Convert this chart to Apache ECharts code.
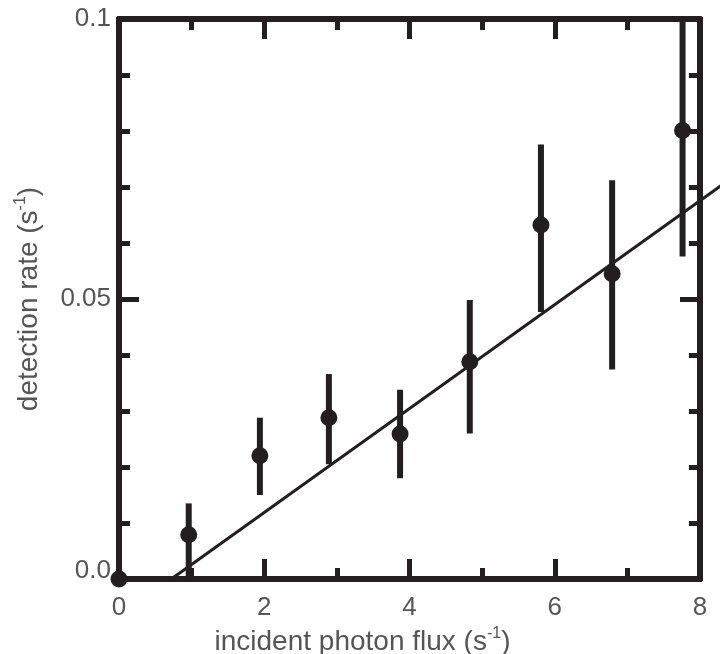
<!DOCTYPE html>
<html>
<head>
<meta charset="utf-8">
<script src="https://cdn.jsdelivr.net/npm/echarts@6/dist/echarts.min.js"></script>
<style>
  html, body {margin: 0; padding: 0; background: #fff;}
  #chart {width: 720px; height: 654px;}
</style>
</head>
<body>
<div id="chart"></div>
<script>
// measured points: flux, rate, error bar low / high
var flux = [0, 0.96, 1.94, 2.89, 3.87, 4.83, 5.81, 6.79, 7.76];
var rate = [0, 0.0079, 0.0220, 0.0288, 0.0259, 0.0388, 0.0632, 0.0545, 0.0801];
var errLow = [null, 0.0, 0.0150, 0.0205, 0.0180, 0.0260, 0.0477, 0.0374, 0.0576];
var errHigh = [null, 0.0135, 0.0288, 0.0366, 0.0338, 0.0498, 0.0776, 0.0712, 0.1];

// fitted line, drawn past the frame on the right
var fitX = [0.72, 8.35];
var fitY = [0, 0.0708];

var xTicks = [0, 2, 4, 6, 8];
var yTickLabels = {0: '0.0', 0.05: '0.05', 0.1: '0.1'};

var ink = '#231f20';
var textGray = '#555555';
var font = 'Liberation Sans, Arial';

var points = flux.map(function (x, i) { return [x, rate[i]]; });
var bars = [];
flux.forEach(function (x, i) {
    if (errLow[i] !== null) bars.push([x, errLow[i], errHigh[i]]);
});
var fitSeg = [[fitX[0], fitY[0], fitX[1], fitY[1]]];

var myChart = echarts.init(document.getElementById('chart'));

var frameLine = {show: true, onZero: false, lineStyle: {color: ink, width: 6}};
var majorTick = {show: true, inside: true, length: 20, lineStyle: {color: ink, width: 5}};
var xMinor = {show: true, splitNumber: 2, length: 11, lineStyle: {color: ink, width: 5}};
var yMinor = {show: true, splitNumber: 5, length: 11, lineStyle: {color: ink, width: 5}};

myChart.setOption({
    animation: false,
    grid: {left: 119, right: 20, top: 19, bottom: 75, containLabel: false, outerBoundsMode: 'none'},
    xAxis: [
        {
            type: 'value',
            min: 0, max: 8, interval: 2,
            axisLine: frameLine,
            axisTick: majorTick,
            minorTick: xMinor,
            splitLine: {show: false},
            axisLabel: {
                color: textGray, fontSize: 26, fontFamily: font, margin: 16,
                formatter: function (v) { return xTicks.indexOf(v) >= 0 ? String(v) : ''; }
            },
            name: 'incident photon flux (s{sup|-1})',
            nameLocation: 'middle',
            nameGap: 42,
            nameTextStyle: {
                color: textGray, fontSize: 28, fontFamily: font,
                lineHeight: 32, padding: [0, 94, 0, 0],
                rich: {sup: {fontSize: 16, lineHeight: 16, verticalAlign: 'top', color: textGray, fontFamily: font}}
            }
        },
        {
            type: 'value', position: 'top',
            min: 0, max: 8, interval: 2,
            axisLine: frameLine,
            axisTick: majorTick,
            minorTick: xMinor,
            axisLabel: {show: false},
            splitLine: {show: false}
        }
    ],
    yAxis: [
        {
            type: 'value',
            min: 0, max: 0.1, interval: 0.05,
            axisLine: frameLine,
            axisTick: majorTick,
            minorTick: yMinor,
            splitLine: {show: false},
            axisLabel: {
                color: textGray, fontSize: 26, fontFamily: font, margin: 8,
                formatter: function (v) {
                    var key = Math.round(v * 100) / 100;
                    var s = yTickLabels[key] || '';
                    return key === 0 ? '{lo|' + s + '}' : s;
                },
                rich: {lo: {color: textGray, fontSize: 26, fontFamily: font, padding: [0, 0, 16, 0]}}
            },
            name: 'detection rate (s{sup|-1})',
            nameLocation: 'middle',
            nameGap: 74,
            nameTextStyle: {
                color: textGray, fontSize: 28, fontFamily: font,
                lineHeight: 32,
                rich: {sup: {fontSize: 16, lineHeight: 16, verticalAlign: 'top', color: textGray, fontFamily: font}}
            }
        },
        {
            type: 'value', position: 'right',
            min: 0, max: 0.1, interval: 0.05,
            axisLine: frameLine,
            axisTick: majorTick,
            minorTick: yMinor,
            axisLabel: {show: false},
            splitLine: {show: false}
        }
    ],
    series: [
        {
            // fit line as a custom segment so it can run past the frame
            type: 'custom',
            data: fitSeg,
            clip: false,
            z: 2,
            renderItem: function (params, api) {
                var a = api.coord([api.value(0), api.value(1)]);
                var b = api.coord([api.value(2), api.value(3)]);
                return {
                    type: 'line',
                    shape: {x1: a[0], y1: a[1], x2: b[0], y2: b[1]},
                    style: {stroke: ink, lineWidth: 3}
                };
            }
        },
        {
            type: 'custom',
            data: bars,
            clip: false,
            z: 3,
            renderItem: function (params, api) {
                var x = api.value(0);
                var lo = api.coord([x, api.value(1)]);
                var hi = api.coord([x, api.value(2)]);
                return {
                    type: 'line',
                    shape: {x1: lo[0], y1: lo[1], x2: hi[0], y2: hi[1]},
                    style: {stroke: ink, lineWidth: 6}
                };
            }
        },
        {
            type: 'scatter',
            data: points,
            symbol: 'circle',
            symbolSize: 17,
            clip: false,
            itemStyle: {color: ink, opacity: 1},
            z: 4
        }
    ]
});
</script>
</body>
</html>
